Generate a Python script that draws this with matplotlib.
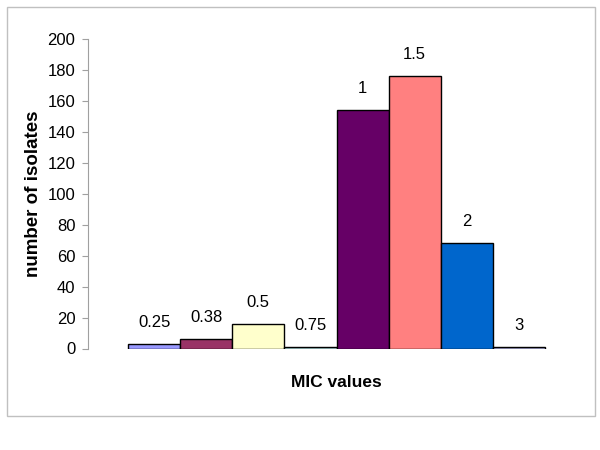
import matplotlib
matplotlib.use("Agg")
import matplotlib.pyplot as plt
from matplotlib.patches import Rectangle

categories = ["0.25", "0.38", "0.5", "0.75", "1", "1.5", "2", "3"]
values = [3, 6, 16, 1, 154, 176, 68, 1]
colors = ["#9999FF", "#993366", "#FFFFCC", "#CCFFFF", "#660066", "#FF8080", "#0066CC", "#CCCCFF"]
yticks = [0, 20, 40, 60, 80, 100, 120, 140, 160, 180, 200]

plt.rcParams['font.family'] = ['Liberation Sans', 'DejaVu Sans']

fig = plt.figure(figsize=(6, 4.5), dpi=100)
ax = fig.add_axes([88/600, 1-348.5/450, 497/600, (348.5-38.7)/450])

x = list(range(len(categories)))
ax.bar(x, values, width=1.0, color=colors, edgecolor="black", linewidth=1.0)
for xi, v, lab in zip(x, values, categories):
    ax.annotate(lab, (xi, v), xytext=(0, 15.5), textcoords="offset points",
                ha="center", va="center", fontsize=12)

ax.set_xlim(-0.5-0.77, len(categories)-0.5+0.77)
ax.set_ylim(0, 200)
ax.set_yticks(yticks)
ax.set_xticks([])
for s in ["top", "right", "bottom"]:
    ax.spines[s].set_visible(False)
ax.spines["left"].set_color("#A0A0A0")
ax.tick_params(axis="y", direction="out", length=4, color="#A0A0A0", labelsize=12, pad=5)
ax.set_ylabel("number of isolates", fontsize=13.5, fontweight="bold", labelpad=4)
ax.set_xlabel("MIC values", fontsize=12.5, fontweight="bold", labelpad=19)

fig.add_artist(Rectangle((6.5/600, 1-416/450), (595-6.5)/600, (416-7)/450,
                         transform=fig.transFigure, fill=False, edgecolor="#C0C0C0", linewidth=1))

fig.savefig("out.png", dpi=100)
